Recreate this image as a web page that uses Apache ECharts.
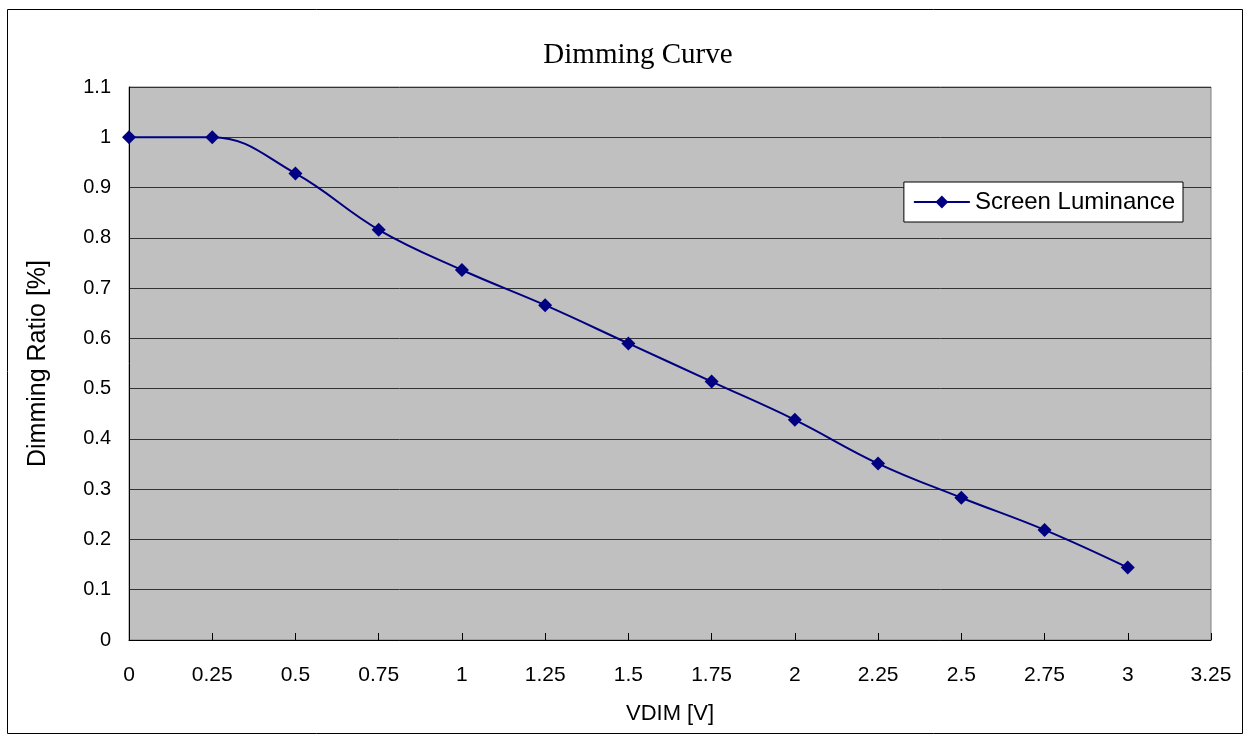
<!DOCTYPE html>
<html>
<head>
<meta charset="utf-8">
<script src="https://cdn.jsdelivr.net/npm/echarts@6/dist/echarts.min.js"></script>
<style>
html,body{margin:0;padding:0;background:#fff;}
#c{width:1250px;height:735px;}
</style>
</head>
<body>
<div id="c"></div>
<script>
var vdim = [0, 0.25, 0.5, 0.75, 1, 1.25, 1.5, 1.75, 2, 2.25, 2.5, 2.75, 3];
var luminance = [1.0, 1.0, 0.928, 0.816, 0.736, 0.666, 0.59, 0.514, 0.438, 0.351, 0.283, 0.219, 0.144];
var seriesName = 'Screen Luminance';
var titleText = 'Dimming Curve';
var xName = 'VDIM [V]';
var yName = 'Dimming Ratio [%]';

var chart = echarts.init(document.getElementById('c'));
var pts = vdim.map(function (x, i) { return [x, luminance[i]]; });
chart.setOption({
  animation: false,
  backgroundColor: '#fff',
  title: {
    text: titleText,
    left: 633, top: 36, textAlign: 'center',
    textStyle: {fontFamily: 'Liberation Serif', fontSize: 29, fontWeight: 'normal', color: '#000'}
  },
  graphic: [{
    type: 'rect', shape: {x: 7.5, y: 9.5, width: 1235, height: 724},
    style: {fill: 'none', stroke: '#000', lineWidth: 1}, z: -10
  }],
  legend: {
    right: 67, top: 182,
    backgroundColor: '#fff', borderColor: '#000', borderWidth: 1,
    padding: [8, 8, 8, 9],
    itemWidth: 56, itemHeight: 16, itemGap: 6,
    textStyle: {fontFamily: 'Liberation Sans', fontSize: 24, color: '#000'},
    data: [seriesName]
  },
  grid: {
    left: 129, top: 87, right: 39, bottom: 95,
    show: true, backgroundColor: '#C0C0C0', borderColor: '#808080', borderWidth: 1
  },
  xAxis: {
    type: 'value', min: 0, max: 3.25, interval: 0.25,
    name: xName, nameLocation: 'middle', nameGap: 63,
    nameTextStyle: {fontFamily: 'Liberation Sans', fontSize: 22, color: '#000'},
    axisLine: {show: true, onZero: false, lineStyle: {color: '#000', width: 1}},
    axisTick: {show: true, inside: true, length: 7, lineStyle: {color: '#000'}},
    axisLabel: {margin: 25, fontFamily: 'Liberation Sans', fontSize: 21, color: '#000'},
    splitLine: {show: false}
  },
  yAxis: {
    type: 'value', min: 0, max: 1.1, interval: 0.1,
    name: yName, nameLocation: 'middle', nameGap: 78, nameRotate: 90,
    nameTextStyle: {fontFamily: 'Liberation Sans', fontSize: 25, color: '#000'},
    axisLine: {show: true, lineStyle: {color: '#000', width: 1}},
    axisTick: {show: false},
    axisLabel: {margin: 18, fontFamily: 'Liberation Sans', fontSize: 20, color: '#000'},
    splitLine: {show: true, lineStyle: {color: '#333', width: 1}}
  },
  series: [{
    name: seriesName, type: 'line', data: pts,
    smooth: 0.4,
    symbol: 'diamond', symbolSize: 14,
    lineStyle: {color: '#000080', width: 2},
    itemStyle: {color: '#000080'}
  }]
});
</script>
</body>
</html>
